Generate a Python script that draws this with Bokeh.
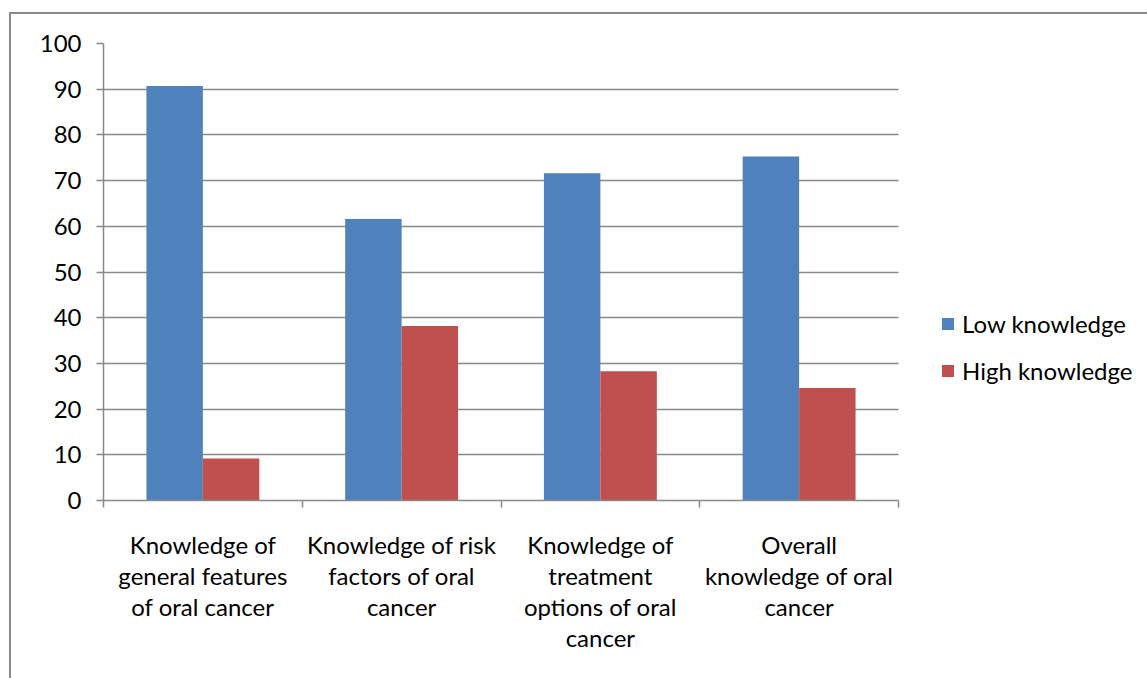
import numpy as np
from bokeh.plotting import figure
from bokeh.models import Range1d, FixedTicker, Legend, LegendItem, InlineStyleSheet
from bokeh.embed import file_html
from bokeh.resources import INLINE

categories = [
    "Knowledge of\ngeneral features\nof oral cancer",
    "Knowledge of risk\nfactors of oral\ncancer",
    "Knowledge of\ntreatment\noptions of oral\ncancer",
    "Overall\nknowledge of oral\ncancer",
]
series = ["Low knowledge", "High knowledge"]
low = [90.7, 61.6, 71.6, 75.3]
high = [9.2, 38.2, 28.3, 24.6]
y_ticks = list(range(0, 101, 10))

BLUE = "#4F81BD"
RED = "#C0504D"
GRID = "#898989"
FONT = "Lato"
FS = "24px"

W, H = 1147, 678
LEFT, TOP, BOTTOM = 103, 43, 178
PLOT_W = 795                      # width of the category area in pixels
n = len(categories)
x_end = n * (W - LEFT) / PLOT_W   # frame extends under the legend area

p = figure(width=W, height=H, output_backend="svg", toolbar_location=None,
           x_range=Range1d(0, x_end), y_range=Range1d(0, 100),
           min_border_left=LEFT, min_border_right=0, min_border_top=TOP,
           min_border_bottom=BOTTOM)
p.outline_line_color = None
p.background_fill_color = "white"
p.border_fill_color = "white"

centers = np.arange(n) + 0.5
bw = 0.284
r1 = p.vbar(x=centers - bw / 2, top=low, width=bw, fill_color=BLUE, line_color=None)
r2 = p.vbar(x=centers + bw / 2, top=high, width=bw, fill_color=RED, line_color=None)

# grid
p.xgrid.visible = False
p.ygrid.ticker = FixedTicker(ticks=y_ticks)
p.ygrid.grid_line_color = GRID
p.ygrid.grid_line_width = 1.5
p.ygrid.cross_bounds = (0, n)

# y axis
ya = p.yaxis[0]
ya.ticker = FixedTicker(ticks=y_ticks)
ya.axis_line_color = GRID
ya.axis_line_width = 1.5
ya.major_tick_line_color = GRID
ya.major_tick_line_width = 1.5
ya.major_tick_out = 7
ya.major_tick_in = 0
ya.minor_tick_line_color = None
ya.major_label_text_font = FONT
ya.major_label_text_font_size = FS
ya.major_label_text_color = "black"
ya.major_label_standoff = 15

# x axis
xa = p.xaxis[0]
xa.bounds = (0, n)
xa.ticker = FixedTicker(ticks=list(centers), minor_ticks=list(range(n + 1)))
xa.major_label_overrides = {float(c): lab for c, lab in zip(centers, categories)}
xa.axis_line_color = GRID
xa.axis_line_width = 1.5
xa.major_tick_line_color = None
xa.major_tick_out = 0
xa.major_tick_in = 0
xa.minor_tick_line_color = GRID
xa.minor_tick_line_width = 1.5
xa.minor_tick_out = 7
xa.minor_tick_in = 0
xa.major_label_text_font = FONT
xa.major_label_text_font_size = FS
xa.major_label_text_color = "black"
xa.major_label_text_line_height = 1.076
xa.major_label_standoff = 22

legend = Legend(items=[LegendItem(label=series[0], renderers=[r1]),
                       LegendItem(label=series[1], renderers=[r2])],
                location=(837, 115))
legend.border_line_color = None
legend.background_fill_alpha = 0
legend.padding = 0
legend.margin = 0
legend.glyph_width = 15
legend.glyph_height = 15
legend.label_standoff = 7
legend.spacing = 18
legend.label_text_font = FONT
legend.label_text_font_size = FS
legend.label_text_color = "black"
p.add_layout(legend)

p.stylesheets = [InlineStyleSheet(css="""
:host { position: relative; }
:host::after {
  content: ""; position: absolute; left: 9px; top: 12px; right: 0; bottom: 0;
  border-left: 2px solid #898989; border-top: 2px solid #898989;
  pointer-events: none;
}
""")]

open("out.html", "w").write(file_html(p, INLINE))
